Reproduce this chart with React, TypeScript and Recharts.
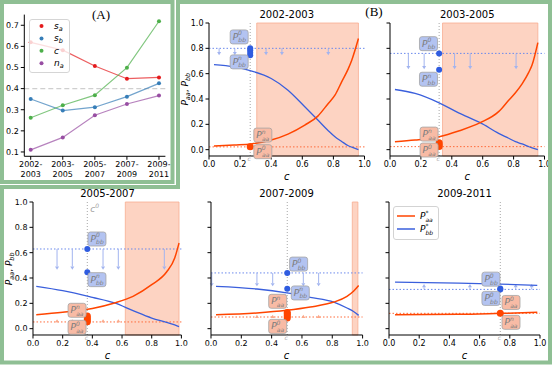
import React from 'react';
import {
	ComposedChart,
	Legend,
	Line,
	LineChart,
	ReferenceArea,
	ReferenceDot,
	ReferenceLine,
	XAxis,
	YAxis,
} from 'recharts';

const FONT = 'DejaVu Sans, sans-serif';
const GREEN = '#8fbf94';

// ---- panel A: indicators per period
const periods = ['2002-2003', '2003-2005', '2005-2007', '2007-2009', '2009-2011'];
const sA = [0.619, 0.582, 0.507, 0.447, 0.453];
const sB = [0.351, 0.296, 0.312, 0.362, 0.425];
const cA = [0.262, 0.321, 0.369, 0.499, 0.719];
const nA = [0.11, 0.169, 0.274, 0.327, 0.367];
const aTicks = [0.1, 0.2, 0.3, 0.4, 0.5, 0.6, 0.7];

// ---- panel B: P*_aa / P*_bb against c, one set per period
const c02 = [0.032, 0.162, 0.27, 0.4, 0.508, 0.616, 0.7, 0.767, 0.81, 0.853, 0.896, 0.918, 0.961];
const bb02 = [0.672, 0.654, 0.622, 0.562, 0.47, 0.339, 0.234, 0.15, 0.102, 0.065, 0.031, 0.02, 0.0];
const aa02 = [0.029, 0.037, 0.045, 0.076, 0.123, 0.194, 0.265, 0.365, 0.43, 0.535, 0.64, 0.706, 0.877];

const c03 = [0.032, 0.162, 0.318, 0.444, 0.584, 0.703, 0.768, 0.812, 0.855, 0.898, 0.92, 0.957];
const bb03 = [0.475, 0.444, 0.37, 0.291, 0.213, 0.129, 0.09, 0.063, 0.045, 0.024, 0.014, 0.0];
const aa03 = [0.063, 0.076, 0.102, 0.147, 0.213, 0.3, 0.39, 0.45, 0.52, 0.61, 0.67, 0.845];

const c05 = [0.022, 0.2, 0.4, 0.55, 0.674, 0.8, 0.9, 0.955, 0.984];
const bb05 = [0.334, 0.3, 0.247, 0.203, 0.142, 0.084, 0.05, 0.03, 0.016];
const aa05 = [0.11, 0.129, 0.16, 0.203, 0.255, 0.347, 0.447, 0.558, 0.676];

const c07 = [0.033, 0.303, 0.5, 0.655, 0.81, 0.897, 0.94, 0.974];
const bb07 = [0.334, 0.313, 0.282, 0.247, 0.21, 0.163, 0.135, 0.105];
const aa07 = [0.11, 0.124, 0.145, 0.171, 0.21, 0.255, 0.295, 0.34];

const c09 = [0.04, 0.46, 0.737, 0.982];
const bb09 = [0.367, 0.36, 0.352, 0.341];
const aa09 = [0.11, 0.113, 0.121, 0.129];

const xTicks = [0, 0.2, 0.4, 0.6, 0.8, 1.0];
const yTicks = [0, 0.2, 0.4, 0.6, 0.8, 1.0];

type Lbl = { c: number; y: number; sup: string; sub: string; k: 'a' | 'b' };
type PanelB = {
	title: string;
	rect: [number, number, number, number];
	c: number[];
	aa: number[];
	bb: number[];
	shade?: [number, number];
	cv: number;
	bb0: number;
	aa0: number;
	bbPts: number[];
	aaPts: number[];
	arrows: number[];
	arrowTo: number;
	aaArrows?: number[];
	aaArrowTo?: number;
	labels: Lbl[];
	first?: boolean;
	legend?: boolean;
	c0?: boolean;
};

const panels: PanelB[] = [
	{
		title: '2002-2003', rect: [209, 22.7, 364.5, 155.7], c: c02, aa: aa02, bb: bb02,
		shade: [0.307, 0.961], cv: 0.265, bb0: 0.8, aa0: 0.022,
		bbPts: [0.745, 0.765, 0.785, 0.8], aaPts: [0.024],
		arrows: [0.065, 0.166, 0.367, 0.469, 0.767], arrowTo: 0.745,
		labels: [
			{ c: 0.194, y: 0.89, sup: '0', sub: 'bb', k: 'b' },
			{ c: 0.194, y: 0.693, sup: 'n', sub: 'bb', k: 'b' },
			{ c: 0.346, y: 0.115, sup: 'n', sub: 'aa', k: 'a' },
			{ c: 0.346, y: -0.016, sup: '0', sub: 'aa', k: 'a' },
		],
		first: true,
	},
	{
		title: '2003-2005', rect: [390, 22.7, 544.5, 155.7], c: c03, aa: aa03, bb: bb03,
		shade: [0.34, 0.957], cv: 0.318, bb0: 0.76, aa0: 0.024,
		bbPts: [0.63, 0.76], aaPts: [0.025, 0.04, 0.055],
		arrows: [0.119, 0.221, 0.418, 0.519, 0.816], arrowTo: 0.635,
		labels: [
			{ c: 0.249, y: 0.837, sup: '0', sub: 'bb', k: 'b' },
			{ c: 0.249, y: 0.556, sup: 'n', sub: 'bb', k: 'b' },
			{ c: 0.253, y: 0.123, sup: 'n', sub: 'aa', k: 'a' },
			{ c: 0.253, y: -0.003, sup: '0', sub: 'aa', k: 'a' },
		],
	},
	{
		title: '2005-2007', rect: [33.3, 202.3, 181.7, 335.3], c: c05, aa: aa05, bb: bb05,
		shade: [0.622, 0.984], cv: 0.366, bb0: 0.629, aa0: 0.053,
		bbPts: [0.445, 0.629], aaPts: [0.055, 0.07, 0.085, 0.1],
		arrows: [0.162, 0.265, 0.472, 0.575, 0.885], arrowTo: 0.466,
		aaArrows: [0.162, 0.265, 0.472, 0.575], aaArrowTo: 0.075,
		labels: [
			{ c: 0.431, y: 0.708, sup: '0', sub: 'bb', k: 'b' },
			{ c: 0.431, y: 0.387, sup: 'n', sub: 'bb', k: 'b' },
			{ c: 0.297, y: 0.145, sup: 'n', sub: 'aa', k: 'a' },
			{ c: 0.297, y: 0.011, sup: '0', sub: 'aa', k: 'a' },
		],
		first: true, c0: true,
	},
	{
		title: '2007-2009', rect: [210.7, 202.3, 362.3, 335.3], c: c07, aa: aa07, bb: bb07,
		shade: [0.932, 0.969], cv: 0.503, bb0: 0.44, aa0: 0.092,
		bbPts: [0.316, 0.44], aaPts: [0.085, 0.1, 0.115, 0.128],
		arrows: [0.005, 0.303, 0.407, 0.609, 0.71], arrowTo: 0.334,
		aaArrows: [0.303, 0.407, 0.609, 0.71], aaArrowTo: 0.11,
		labels: [
			{ c: 0.578, y: 0.51, sup: '0', sub: 'bb', k: 'b' },
			{ c: 0.589, y: 0.282, sup: 'n', sub: 'bb', k: 'b' },
			{ c: 0.44, y: 0.216, sup: 'n', sub: 'aa', k: 'a' },
			{ c: 0.44, y: 0.018, sup: '0', sub: 'aa', k: 'a' },
		],
	},
	{
		title: '2009-2011', rect: [389, 202.3, 540, 335.3], c: c09, aa: aa09, bb: bb09,
		cv: 0.737, bb0: 0.31, aa0: 0.121,
		bbPts: [0.31, 0.318], aaPts: [0.121],
		arrows: [0.232, 0.536, 0.839, 0.945], arrowTo: 0.352,
		labels: [
			{ c: 0.675, y: 0.391, sup: '0', sub: 'bb', k: 'b' },
			{ c: 0.675, y: 0.239, sup: '0', sub: 'bb', k: 'b' },
			{ c: 0.808, y: 0.207, sup: '0', sub: 'aa', k: 'a' },
			{ c: 0.808, y: 0.05, sup: 'n', sub: 'aa', k: 'a' },
		],
		legend: true,
	},
];

const RED = '#ff4500';
const BLUE = '#3a5fdc';

const arrowShape = (color: string) => (s: any) => {
	const { x1, y1, x2, y2 } = s;
	const dir = y2 > y1 ? 1 : -1;
	const h = 3.2;
	const w = 2;
	return (
		<g>
			<line x1={x1} y1={y1} x2={x2} y2={y2 - dir * h} stroke={color} strokeWidth={1} />
			<polygon
				points={`${x2},${y2} ${x2 - w},${y2 - dir * h} ${x2 + w},${y2 - dir * h}`}
				fill={color}
			/>
		</g>
	);
};

function PBox({ cx, cy, sup, sub, k }: any) {
	const fill = k === 'b' ? '#b3c3f1' : '#f8bba5';
	return (
		<g>
			<rect x={cx - 9} y={cy - 7} width={18} height={14} rx={2.5} fill={fill} stroke="#a5a5a5" strokeWidth={0.8} />
			<text x={cx - 6.5} y={cy + 3} fontSize={9} fill="#7d7d7d" fontFamily={FONT} fontStyle="italic">
				P
				<tspan fontSize={6} dy={-4.5}>{sup}</tspan>
				<tspan fontSize={6} dx={-3.6} dy={7}>{sub}</tspan>
			</text>
		</g>
	);
}

const YW = 30;
const XH = 24;
const MT = 7;
const MR = 8;

function BLegend() {
	return (
		<svg width={46} height={34}>
			<rect x={0.5} y={0.5} width={45} height={33} rx={2.5} fill="#fff" stroke="#d3d3d3" />
			{[
				{ color: RED, sub: 'aa', y: 10 },
				{ color: BLUE, sub: 'bb', y: 23 },
			].map((r) => (
				<g key={r.sub}>
					<line x1={4} x2={22} y1={r.y} y2={r.y} stroke={r.color} strokeWidth={1.5} />
					<text x={27} y={r.y + 3} fontSize={9} fontFamily={FONT} fontStyle="italic">
						P
						<tspan fontSize={6} dy={-4}>*</tspan>
						<tspan fontSize={6} dx={-3} dy={6.5}>{r.sub}</tspan>
					</text>
				</g>
			))}
		</svg>
	);
}

function SubChart({ p }: { p: PanelB }) {
	const [pl, pt, pr, pb] = p.rect;
	const width = pr - pl + YW + MR;
	const height = pb - pt + MT + XH;
	const data = p.c.map((c, i) => ({ c, aa: p.aa[i], bb: p.bb[i] }));
	const tickStyle = { fontSize: 8, fill: '#000', fontFamily: FONT };
	return (
		<div style={{ position: 'absolute', left: pl - YW, top: pt - MT }}>
			<ComposedChart width={width} height={height} data={data} margin={{ top: MT, right: MR, bottom: 0, left: 0 }}>
				<XAxis
					type="number"
					dataKey="c"
					domain={[0, 1]}
					ticks={xTicks}
					interval={0}
					tickFormatter={(v: number) => v.toFixed(1)}
					tick={tickStyle}
					tickSize={3.5}
					tickMargin={2}
					stroke="#000"
					height={XH}
					allowDataOverflow
				/>
				<YAxis
					type="number"
					domain={[-0.05, 1]}
					ticks={yTicks}
					interval={0}
					tickFormatter={(v: number) => (p.first ? v.toFixed(1) : '')}
					tick={tickStyle}
					tickSize={3.5}
					tickMargin={2}
					stroke="#000"
					width={YW}
					allowDataOverflow
				/>
				{p.shade && (
					<ReferenceArea
						x1={p.shade[0]}
						x2={p.shade[1]}
						y1={-0.05}
						y2={1}
						fill="#fdd3c2"
						fillOpacity={1}
						stroke="#f8ad92"
						strokeWidth={0.8}
					/>
				)}
				<ReferenceLine x={p.cv} stroke="#a8a8a8" strokeDasharray="1 2" />
				<ReferenceLine y={p.bb0} stroke="#6a89ec" strokeDasharray="1.5 2" />
				<ReferenceLine y={p.aa0} stroke="#ff6a3a" strokeDasharray="1.5 2" />
				{p.arrows.map((c) => (
					<ReferenceLine
						key={'ab' + c}
						segment={[{ x: c, y: p.bb0 }, { x: c, y: p.arrowTo }]}
						shape={arrowShape('#a2b4ef')}
					/>
				))}
				{(p.aaArrows || []).map((c) => (
					<ReferenceLine
						key={'aa' + c}
						segment={[{ x: c, y: p.aa0 }, { x: c, y: p.aaArrowTo as number }]}
						shape={arrowShape('#fba98a')}
					/>
				))}
				<Line dataKey="bb" type="monotone" stroke={BLUE} strokeWidth={1.3} dot={false} activeDot={false} isAnimationActive={false} />
				<Line dataKey="aa" type="monotone" stroke={RED} strokeWidth={1.5} dot={false} activeDot={false} isAnimationActive={false} />
				{p.bbPts.map((y) => (
					<ReferenceDot key={'pb' + y} x={p.cv} y={y} r={3} fill="#2f5ce0" stroke="none" />
				))}
				{p.aaPts.map((y) => (
					<ReferenceDot key={'pa' + y} x={p.cv} y={y} r={3.5} fill={RED} stroke="none" />
				))}
				<ReferenceDot
					x={p.cv}
					y={-0.05}
					r={0}
					shape={(s: any) => (
						<text x={s.cx - 1} y={s.cy + 5} fontSize={6} fill="#a0a0a0" fontFamily={FONT} fontStyle="italic" textAnchor="middle">
							c̄
						</text>
					)}
				/>
				{p.c0 && (
					<ReferenceDot
						x={p.cv}
						y={0.947}
						r={0}
						shape={(s: any) => (
							<text x={s.cx + 3} y={s.cy + 3} fontSize={9} fill="#a0a0a0" fontFamily={FONT} fontStyle="italic">
								c<tspan fontSize={6} dy={-4}>0</tspan>
							</text>
						)}
					/>
				)}
				{p.labels.map((l, i) => (
					<ReferenceDot
						key={'l' + i}
						x={l.c}
						y={l.y}
						r={0}
						shape={(s: any) => <PBox cx={s.cx} cy={s.cy} sup={l.sup} sub={l.sub} k={l.k} />}
					/>
				))}
				{p.legend && (
					<Legend
						layout="vertical"
						align="center"
						verticalAlign="middle"
						wrapperStyle={{ left: YW + 4, top: MT + 4, width: 46, height: 34 }}
						content={() => <BLegend />}
					/>
				)}
			</ComposedChart>
		</div>
	);
}

const aSeries = [
	{ key: 'sa', color: '#e41a1c', base: 's', sub: 'a' },
	{ key: 'sb', color: '#377eb8', base: 's', sub: 'b' },
	{ key: 'c', color: '#4daf4a', base: 'c', sub: '' },
	{ key: 'na', color: '#984ea3', base: 'n', sub: 'a' },
];

function ALegend() {
	return (
		<svg width={41} height={54}>
			<rect x={0.5} y={0.5} width={40} height={53} rx={2.5} fill="#fff" fillOpacity={0.8} stroke="#d5d5d5" />
			{aSeries.map((s, i) => (
				<g key={s.key}>
					<circle cx={12.5} cy={7 + i * 12.4} r={2} fill={s.color} />
					<text x={25} y={10 + i * 12.4} fontSize={9} fontFamily={FONT} fontStyle="italic">
						{s.base}
						{s.sub && (
							<tspan fontSize={6.5} dy={2}>
								{s.sub}
							</tspan>
						)}
					</text>
				</g>
			))}
		</svg>
	);
}

function PeriodTick({ x, y, payload }: any) {
	const [a, b] = periods[payload.value].split('-');
	return (
		<text x={x} y={y} textAnchor="middle" fontSize={8} fontFamily={FONT} fill="#000">
			<tspan x={x} dy="0.71em">{a}-</tspan>
			<tspan x={x} dy="1.18em">{b}</tspan>
		</text>
	);
}

function PanelA() {
	const data = periods.map((_, i) => ({ x: i, sa: sA[i], sb: sB[i], c: cA[i], na: nA[i] }));
	const pl = 24.3;
	const pt = 14.6;
	const pr = 165.4;
	const pb = 156.3;
	return (
		<div style={{ position: 'absolute', left: 0, top: 0 }}>
			<LineChart width={pr + 6} height={pb + 28} data={data} margin={{ top: pt, right: 6, bottom: 0, left: 0 }}>
				<XAxis
					type="number"
					dataKey="x"
					domain={[-0.2, 4.2]}
					ticks={[0, 1, 2, 3, 4]}
					interval={0}
					tick={<PeriodTick />}
					tickSize={3.5}
					tickMargin={2}
					stroke="#000"
					height={28}
				/>
				<YAxis
					type="number"
					domain={[0.0795, 0.7505]}
					ticks={aTicks}
					interval={0}
					tickFormatter={(v: number) => v.toFixed(1)}
					tick={{ fontSize: 8, fill: '#000', fontFamily: FONT }}
					tickSize={3.5}
					tickMargin={2}
					stroke="#000"
					width={pl}
					allowDataOverflow
				/>
				<ReferenceLine y={0.4} stroke="#cfcfcf" strokeWidth={1.3} strokeDasharray="5 3" />
				{aSeries.map((s) => (
					<Line
						key={s.key}
						dataKey={s.key}
						type="linear"
						stroke={s.color}
						strokeOpacity={0.7}
						strokeWidth={1.2}
						dot={{ r: 2, fill: s.color, stroke: 'none', fillOpacity: 1 }}
						activeDot={false}
						isAnimationActive={false}
					/>
				))}
				<Legend
					layout="vertical"
					align="center"
					verticalAlign="middle"
					wrapperStyle={{ left: 29, top: 19, width: 41, height: 54 }}
					content={() => <ALegend />}
				/>
			</LineChart>
		</div>
	);
}

function Overlay() {
	return (
		<svg width={552} height={365} style={{ position: 'absolute', left: 0, top: 0, pointerEvents: 'none' }}>
			<rect x={2} y={2} width={170.5} height={180} fill="none" stroke={GREEN} strokeWidth={4} />
			<path d="M178,2 H550 V362.5 H2 V187 H178 Z" fill="none" stroke={GREEN} strokeWidth={4} />
			<text x={101} y={19} fontSize={13} fontFamily="Liberation Serif, serif" textAnchor="middle">(A)</text>
			<text x={374} y={15.5} fontSize={13} fontFamily="Liberation Serif, serif" textAnchor="middle">(B)</text>
			{panels.map((p) => {
				const [pl, pt, pr, pb] = p.rect;
				const cx = (pl + pr) / 2;
				const cy = (pt + pb) / 2;
				return (
					<g key={p.title} fontFamily={FONT}>
						<text x={cx} y={pt - 5} fontSize={10} textAnchor="middle">{p.title}</text>
						<text x={cx} y={pb + 24} fontSize={10} textAnchor="middle" fontStyle="italic">c</text>
						{p.first && (
							<text x={pl - 21} y={cy} fontSize={9} textAnchor="middle" transform={`rotate(-90 ${pl - 21} ${cy})`}>
								<tspan fontStyle="italic">P</tspan>
								<tspan fontStyle="italic" fontSize={6.5} dy={2}>aa</tspan>
								<tspan dy={-2}>, </tspan>
								<tspan fontStyle="italic">P</tspan>
								<tspan fontStyle="italic" fontSize={6.5} dy={2}>bb</tspan>
							</text>
						)}
					</g>
				);
			})}
		</svg>
	);
}

export default function App() {
	return (
		<div style={{ position: 'absolute', left: 0, top: 0, width: 552, height: 365, background: '#fff', overflow: 'hidden' }}>
			<PanelA />
			{panels.map((p) => (
				<SubChart key={p.title} p={p} />
			))}
			<Overlay />
		</div>
	);
}
